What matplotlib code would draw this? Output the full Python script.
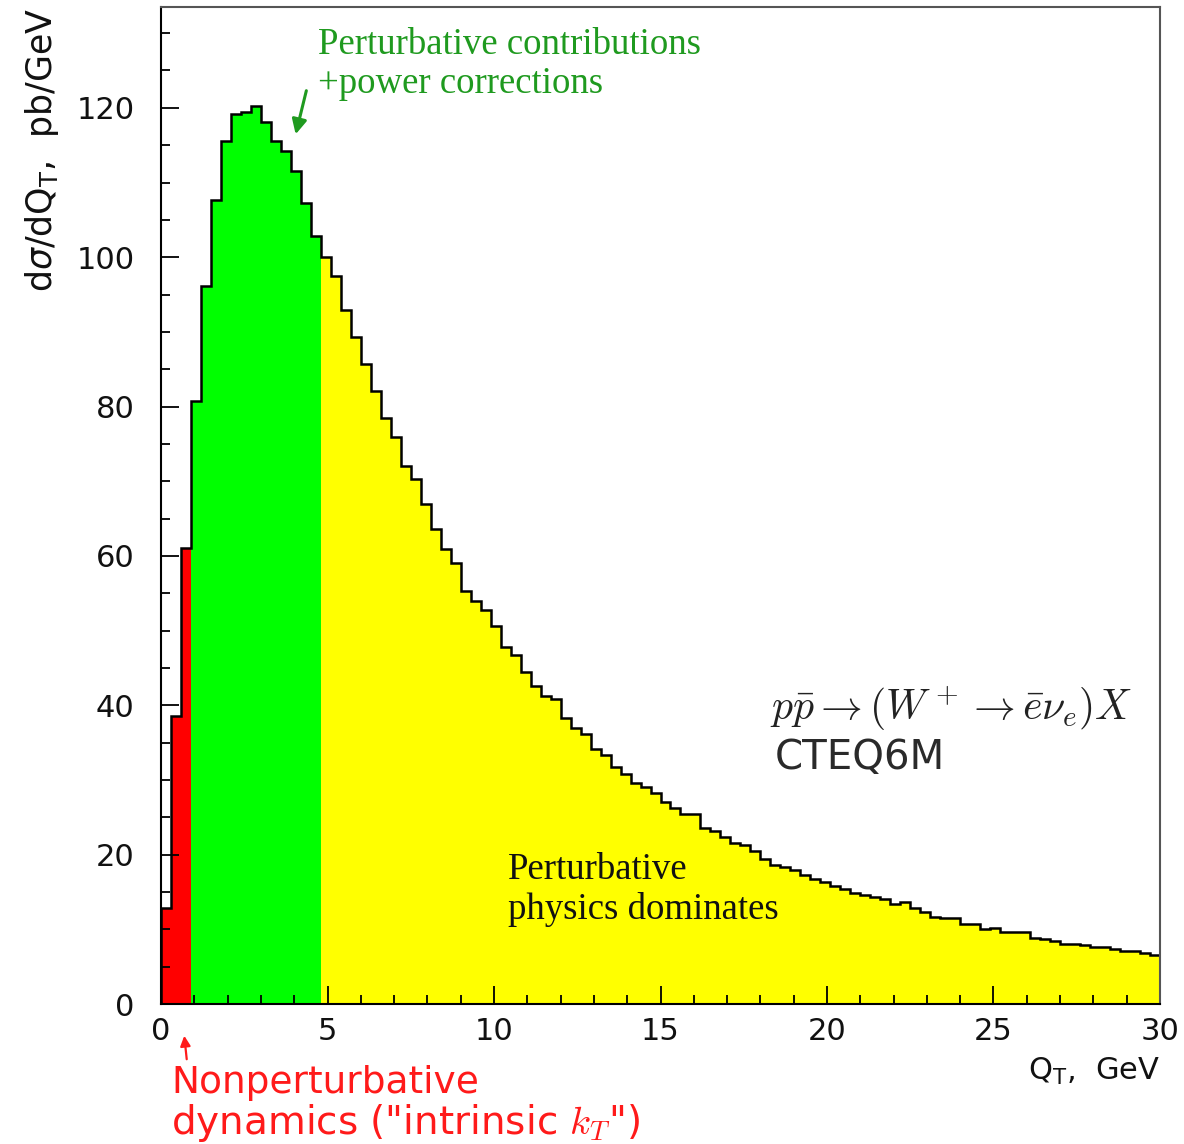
import numpy as np
import matplotlib
matplotlib.use("Agg")
import matplotlib.pyplot as plt
from matplotlib.ticker import MultipleLocator

# ---- data ----
bin_lo, bin_hi, n_bins = 0.0, 30.0, 100
values = [
    12.9, 38.6, 61.0, 80.8, 96.1, 107.6, 115.6, 119.2, 119.4, 120.3,
    118.1, 115.6, 114.2, 111.6, 107.3, 102.9, 100.0, 97.5, 92.9, 89.3,
    85.7, 82.1, 78.5, 75.9, 72.0, 70.3, 67.0, 63.6, 60.9, 59.1,
    55.3, 54.0, 52.7, 50.6, 47.8, 46.7, 44.5, 42.6, 41.2, 40.9,
    38.3, 37.0, 36.2, 34.2, 33.4, 31.8, 30.8, 29.6, 29.0, 28.2,
    27.0, 26.2, 25.4, 25.4, 23.6, 23.1, 22.3, 21.5, 21.3, 20.5,
    19.4, 18.6, 18.4, 17.9, 17.3, 16.8, 16.4, 15.8, 15.4, 14.9,
    14.6, 14.3, 14.0, 13.4, 13.7, 12.8, 12.3, 11.7, 11.5, 11.5,
    10.7, 10.7, 10.0, 10.2, 9.7, 9.7, 9.7, 8.9, 8.7, 8.4,
    8.1, 8.1, 7.9, 7.6, 7.6, 7.3, 7.1, 7.1, 6.8, 6.6,
]
region_bins = [3, 16]          # red: bins [0,3), green: [3,16), yellow: rest
region_colors = ["#ff0000", "#00ff00", "#ffff00"]
xticks = [0, 5, 10, 15, 20, 25, 30]
yticks = [0, 20, 40, 60, 80, 100, 120]
y_max = 133.5

W, H = 1184, 1144
fig = plt.figure(figsize=(W / 100, H / 100), dpi=100)
fig.patch.set_facecolor("white")

def fx(px):
    return px / W

def fy(py):
    return 1 - py / H

ax = fig.add_axes([fx(161), fy(1004), fx(1160) - fx(161), fy(7) - fy(1004)])

edges = np.linspace(bin_lo, bin_hi, n_bins + 1)
vals = np.array(values)
bounds = [0] + region_bins + [n_bins]
for (a, b), c in zip(zip(bounds[:-1], bounds[1:]), region_colors):
    ax.stairs(vals[a:b], edges[a:b + 1], fill=True, color=c, linewidth=0)
ax.stairs(vals, edges, baseline=0, fill=False, color="black", linewidth=1.8)

ax.set_xlim(bin_lo, bin_hi)
ax.set_ylim(0, y_max)
ax.set_xticks(xticks)
ax.set_yticks(yticks)
ax.xaxis.set_minor_locator(MultipleLocator(1))
ax.yaxis.set_minor_locator(MultipleLocator(5))
ax.tick_params(which="both", direction="in", top=False, right=False,
               width=1.3, color="black")
ax.tick_params(which="major", length=13, labelsize=22)
ax.tick_params(axis="y", which="major", pad=19)
ax.tick_params(axis="x", which="major", pad=9)
ax.tick_params(which="minor", length=6.5)
for lab in ax.get_xticklabels() + ax.get_yticklabels():
    lab.set_fontfamily("DejaVu Sans")
    lab.set_color("#111111")

for s in ["left", "bottom"]:
    ax.spines[s].set_linewidth(1.5)
    ax.spines[s].set_color("black")
for s in ["top", "right"]:
    ax.spines[s].set_linewidth(1.5)
    ax.spines[s].set_color("#555555")

plt.rcParams["mathtext.fontset"] = "dejavusans"

# axis labels
fig.text(fx(42), fy(8), r"d$\sigma$/dQ$_{\rm T}$,  pb/GeV", rotation=90,
         ha="center", va="top", fontsize=25, color="#111111",
         family="DejaVu Sans")
fig.text(fx(1160), fy(1080), r"Q$_{\rm T}$,  GeV", ha="right", va="baseline",
         fontsize=22, color="#111111", family="DejaVu Sans")

# annotations
green = "#1f9a1f"
fig.text(fx(318), fy(54), "Perturbative contributions",
         ha="left", va="baseline", fontsize=26.5, color=green,
         family="Liberation Serif")
fig.text(fx(318), fy(93), "+power corrections",
         ha="left", va="baseline", fontsize=26.5, color=green,
         family="Liberation Serif")
ax.annotate("", xy=(fx(295), fy(137)), xycoords="figure fraction",
            xytext=(fx(307), fy(88)), textcoords="figure fraction",
            arrowprops=dict(arrowstyle="-|>", color=green, lw=2.2,
                            mutation_scale=22))

red = "#ff1a1a"
fig.text(fx(171), fy(1093), "Nonperturbative",
         ha="left", va="baseline", fontsize=27, color=red,
         family="DejaVu Sans")
fig.text(fx(171), fy(1134), r'dynamics ("intrinsic $k_T$")',
         ha="left", va="baseline", fontsize=28, color=red,
         family="DejaVu Sans", math_fontfamily="cm")
ax.annotate("", xy=(fx(184), fy(1033)), xycoords="figure fraction",
            xytext=(fx(187), fy(1062)), textcoords="figure fraction",
            arrowprops=dict(arrowstyle="-|>", color=red, lw=1.6,
                            mutation_scale=15), annotation_clip=False)

fig.text(fx(508), fy(879), "Perturbative",
         ha="left", va="baseline", fontsize=26.5, color="#111111",
         family="Liberation Serif")
fig.text(fx(508), fy(919), "physics dominates",
         ha="left", va="baseline", fontsize=26.5, color="#111111",
         family="Liberation Serif")

fig.text(fx(770), fy(720), r"$p\bar{p} \rightarrow (W^+ \rightarrow \bar{e}\nu_e)X$",
         ha="left", va="baseline", fontsize=30, color="#222222",
         math_fontfamily="cm")
fig.text(fx(775), fy(769), "CTEQ6M", ha="left", va="baseline",
         fontsize=29, color="#2a2a2a", family="DejaVu Sans")

fig.savefig("out.png", dpi=100, facecolor="white")
